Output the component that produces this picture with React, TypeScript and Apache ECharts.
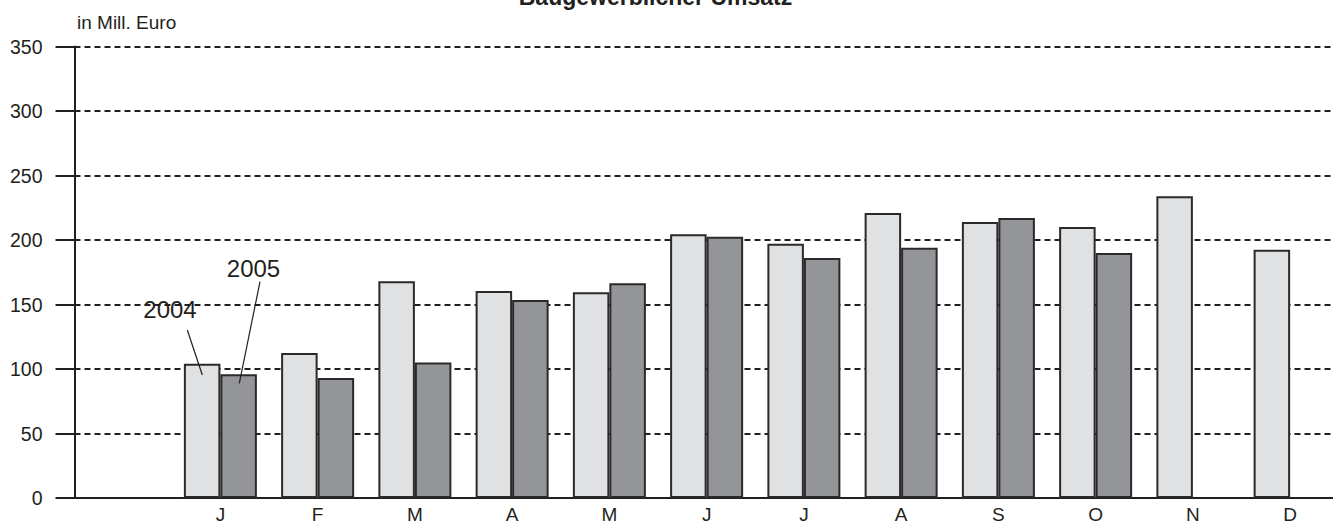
import React, { useEffect, useRef } from "react";
import * as echarts from "echarts";

const months = ["", "J", "F", "M", "A", "M", "J", "J", "A", "S", "O", "N", "D"];
const values2004 = [null, 104, 112.5, 168, 160.5, 159.5, 204.5, 197, 221, 214, 210, 234, 192.5];
const values2005 = [null, 96, 93, 105, 153.5, 166.5, 202.5, 186, 194, 217, 190, null, null];
const yTicks = [0, 50, 100, 150, 200, 250, 300, 350];
const title = "Baugewerblicher Umsatz";
const unitLabel = "in Mill. Euro";
const seriesNames = ["2004", "2005"];

const FONT = "'Liberation Sans', Arial, Helvetica, sans-serif";
const INK = "#231f20";

export default function App() {
  const ref = useRef<HTMLDivElement>(null);
  useEffect(() => {
    if (!ref.current) return;
    const chart = echarts.init(ref.current, null, { renderer: "svg" });
    chart.setOption({
      animation: false,
      backgroundColor: "#ffffff",
      grid: {
        left: 74.5,
        right: -5.75,
        top: 46.5,
        bottom: 25,
        containLabel: false,
        outerBoundsMode: "none",
      },
      xAxis: {
        type: "category",
        data: months,
        axisLine: { show: true, lineStyle: { color: INK, width: 2 } },
        axisTick: { show: false },
        axisLabel: {
          margin: 6.5,
          fontFamily: FONT,
          fontSize: 19,
          color: INK,
        },
        splitLine: { show: false },
      },
      yAxis: {
        type: "value",
        min: yTicks[0],
        max: yTicks[yTicks.length - 1],
        interval: 50,
        axisLine: { show: true, lineStyle: { color: INK, width: 2 } },
        axisTick: { show: true, inside: false, length: 19, lineStyle: { color: INK, width: 2 } },
        axisLabel: {
          margin: 32,
          fontFamily: FONT,
          fontSize: 19.5,
          color: INK,
        },
        splitLine: {
          show: true,
          lineStyle: { color: INK, width: 2, type: [6, 4] },
        },
      },
      series: [
        {
          name: seriesNames[0],
          type: "bar",
          data: values2004,
          barWidth: 36.5,
          barGap: "0%",
          itemStyle: { color: "#e0e1e3", borderColor: "#2a2a2a", borderWidth: 2 },
        },
        {
          name: seriesNames[1],
          type: "bar",
          data: values2005,
          barWidth: 36.5,
          barGap: "0%",
          itemStyle: { color: "#939598", borderColor: "#2a2a2a", borderWidth: 2 },
        },
      ],
      graphic: [
        {
          type: "text",
          x: 655.5,
          y: -3.5,
          style: {
            text: title,
            font: `bold 23px ${FONT}`,
            fill: INK,
            align: "center",
            verticalAlign: "middle",
          },
        },
        {
          type: "text",
          x: 77,
          y: 22.7,
          style: {
            text: unitLabel,
            font: `19px ${FONT}`,
            fill: INK,
            align: "left",
            verticalAlign: "middle",
          },
        },
        {
          type: "text",
          x: 170,
          y: 309.6,
          style: {
            text: seriesNames[0],
            font: `24px ${FONT}`,
            fill: INK,
            align: "center",
            verticalAlign: "middle",
          },
        },
        {
          type: "text",
          x: 253.5,
          y: 268.3,
          style: {
            text: seriesNames[1],
            font: `24px ${FONT}`,
            fill: INK,
            align: "center",
            verticalAlign: "middle",
          },
        },
        {
          type: "line",
          shape: { x1: 187.3, y1: 330, x2: 202.3, y2: 375 },
          style: { stroke: INK, lineWidth: 1.2 },
          z: 100,
        },
        {
          type: "line",
          shape: { x1: 260, y1: 281.7, x2: 239.3, y2: 383.3 },
          style: { stroke: INK, lineWidth: 1.2 },
          z: 100,
        },
      ],
    });
    return () => chart.dispose();
  }, []);
  return (
    <div
      ref={ref}
      style={{ position: "fixed", left: 0, top: 0, width: 1333, height: 523, overflow: "hidden", background: "#fff" }}
    />
  );
}
